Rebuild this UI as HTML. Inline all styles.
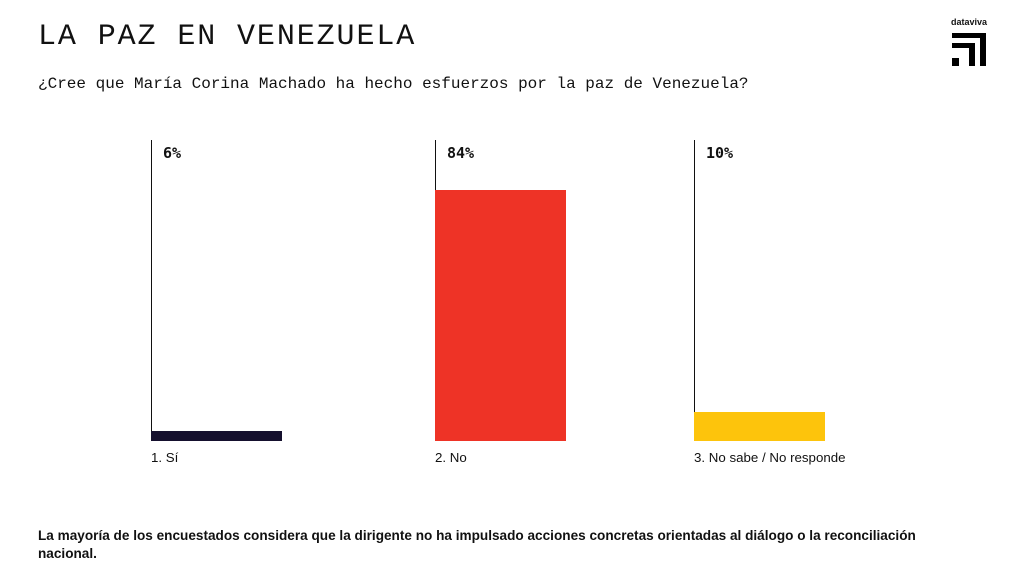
<!DOCTYPE html>
<html><head><meta charset="utf-8"><style>
body{margin:0;width:1015px;height:570px;background:#fff;position:relative;overflow:hidden;font-family:"Liberation Sans",sans-serif;color:#111}
.a{position:absolute}
.t{left:38px;top:19px;font-family:"Liberation Mono",monospace;font-size:30px;letter-spacing:1.9px;line-height:36px;white-space:nowrap}
.s{left:38px;top:74px;font-family:"Liberation Mono",monospace;font-size:16px;letter-spacing:0px;line-height:20px;white-space:nowrap}
.v{width:1px;background:#111;top:140px;height:301px}
.p{font-family:"DejaVu Sans Mono","Liberation Mono",monospace;font-weight:bold;font-size:15px;top:144px}
.l{font-size:13.3px;top:450px}
</style></head><body>
<div class="a t">LA PAZ EN VENEZUELA</div>
<div class="a s">¿Cree que María Corina Machado ha hecho esfuerzos por la paz de Venezuela?</div>
<div class="a" style="left:951px;top:17px;font-size:9px;font-weight:bold;">dataviva</div>
<div class="a" style="left:952px;top:33px;width:34px;height:5px;background:#000"></div>
<div class="a" style="left:980px;top:33px;width:6px;height:33px;background:#000"></div>
<div class="a" style="left:952px;top:43px;width:23px;height:5px;background:#000"></div>
<div class="a" style="left:969px;top:43px;width:6px;height:23px;background:#000"></div>
<div class="a" style="left:952px;top:58px;width:7px;height:8px;background:#000"></div>

<div class="a v" style="left:151px"></div>
<div class="a v" style="left:435px"></div>
<div class="a v" style="left:694px"></div>
<div class="a p" style="left:163px">6%</div>
<div class="a p" style="left:447px">84%</div>
<div class="a p" style="left:706px">10%</div>
<div class="a" style="left:151px;top:431px;width:131px;height:10px;background:#15102e"></div>
<div class="a" style="left:435px;top:190px;width:131px;height:251px;background:#ee3326"></div>
<div class="a" style="left:694px;top:412px;width:131px;height:29px;background:#fdc40c"></div>
<div class="a l" style="left:151px">1. Sí</div>
<div class="a l" style="left:435px">2. No</div>
<div class="a l" style="left:694px">3. No sabe / No responde</div>
<div class="a" style="left:38px;top:527px;width:910px;font-size:13.6px;font-weight:bold;line-height:18px">La mayoría de los encuestados considera que la dirigente no ha impulsado acciones concretas orientadas al diálogo o la reconciliación nacional.</div>
</body></html>
